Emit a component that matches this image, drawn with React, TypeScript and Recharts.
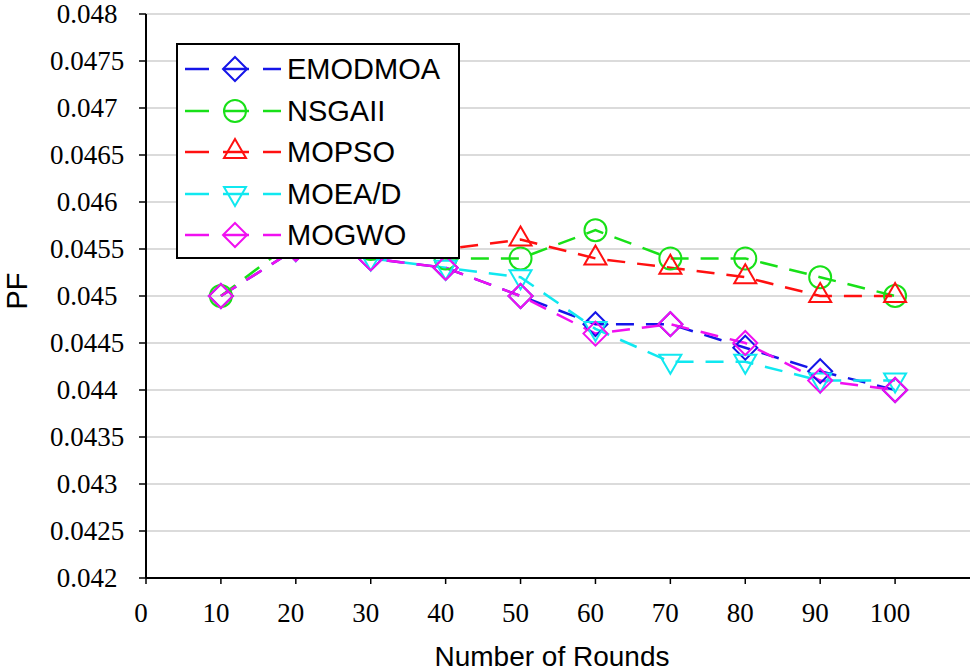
import React from "react";
import { LineChart, Line, XAxis, YAxis, CartesianGrid, Legend, Label } from "recharts";

const rounds = [10, 20, 30, 40, 50, 60, 70, 80, 90, 100];
const emodmoa = [0.045, 0.0455, 0.0454, 0.0453, 0.045, 0.0447, 0.0447, 0.04445, 0.0442, 0.044];
const nsgaii = [0.045, 0.0456, 0.0455, 0.0454, 0.0454, 0.0457, 0.0454, 0.0454, 0.0452, 0.045];
const mopso = [0.0456, 0.0455, 0.0455, 0.0455, 0.0456, 0.0454, 0.0453, 0.0452, 0.045, 0.045];
const moead = [0.0456, 0.0455, 0.0454, 0.0453, 0.0452, 0.04465, 0.0443, 0.0443, 0.0441, 0.0441];
const mogwo = [0.045, 0.0455, 0.0454, 0.0453, 0.045, 0.0446, 0.0447, 0.0445, 0.0441, 0.044];

const xTicks = [0, 10, 20, 30, 40, 50, 60, 70, 80, 90, 100];
const yTicks = [0.042, 0.0425, 0.043, 0.0435, 0.044, 0.0445, 0.045, 0.0455, 0.046, 0.0465, 0.047, 0.0475, 0.048];

const seriesNames = ["EMODMOA", "NSGAII", "MOPSO", "MOEA/D", "MOGWO"];
const seriesKeys = ["emodmoa", "nsgaii", "mopso", "moead", "mogwo"];
const seriesColors = ["#1515e8", "#18e018", "#ff1010", "#10e8f0", "#f010f0"];
const seriesShapes = ["diamond", "circle", "up", "down", "diamond"];
const seriesValues = [emodmoa, nsgaii, mopso, moead, mogwo];

const rows = rounds.map((r, i) => {
  const o: any = { round: r };
  seriesKeys.forEach((k, j) => {
    o[k] = seriesValues[j][i];
  });
  return o;
});

const SERIF = '"Liberation Serif", "Times New Roman", serif';
const SANS = '"Liberation Sans", Arial, sans-serif';

function MarkerShape({ cx, cy, stroke, shape }: any) {
  if (cx == null || cy == null) return null;
  const sw = 2;
  if (shape === "diamond") {
    return (
      <polygon
        points={`${cx},${cy - 12} ${cx + 12},${cy} ${cx},${cy + 12} ${cx - 12},${cy}`}
        fill="none"
        stroke={stroke}
        strokeWidth={sw}
      />
    );
  }
  if (shape === "circle") {
    return <circle cx={cx} cy={cy} r={11} fill="none" stroke={stroke} strokeWidth={sw} />;
  }
  if (shape === "up") {
    return (
      <polygon
        points={`${cx},${cy - 13} ${cx + 11},${cy + 6} ${cx - 11},${cy + 6}`}
        fill="none"
        stroke={stroke}
        strokeWidth={sw}
      />
    );
  }
  return (
    <polygon
      points={`${cx - 11},${cy - 7} ${cx + 11},${cy - 7} ${cx},${cy + 12}`}
      fill="none"
      stroke={stroke}
      strokeWidth={sw}
    />
  );
}

function LegendBox() {
  return (
    <div
      style={{
        width: 280,
        height: 212,
        border: "2px solid #000",
        background: "#fff",
        position: "relative",
      }}
    >
      {seriesNames.map((name, i) => (
        <div
          key={name}
          style={{ position: "absolute", left: 0, top: 4 + i * 41.5, height: 40, width: 280 }}
        >
          <svg width={110} height={40} style={{ position: "absolute", left: 0, top: 0 }}>
            <line x1={7} y1={20} x2={31} y2={20} stroke={seriesColors[i]} strokeWidth={2.5} />
            <line x1={45} y1={20} x2={71} y2={20} stroke={seriesColors[i]} strokeWidth={2.5} />
            <line x1={85} y1={20} x2={103} y2={20} stroke={seriesColors[i]} strokeWidth={2.5} />
            <MarkerShape cx={57} cy={20} stroke={seriesColors[i]} shape={seriesShapes[i]} />
          </svg>
          <span
            style={{
              position: "absolute",
              left: 109,
              top: 0,
              lineHeight: "40px",
              fontFamily: SANS,
              fontSize: 29,
              color: "#000",
            }}
          >
            {name}
          </span>
        </div>
      ))}
    </div>
  );
}

function XTick({ x, y, payload }: any) {
  return (
    <text
      x={x - 5}
      y={y}
      dy={36}
      textAnchor="middle"
      style={{ fontFamily: SERIF, fontSize: 27 }}
      fill="#000"
    >
      {payload.value}
    </text>
  );
}

function YTick({ y, payload }: any) {
  return (
    <text
      x={87}
      y={y}
      dy={9}
      textAnchor="middle"
      style={{ fontFamily: SERIF, fontSize: 27 }}
      fill="#000"
    >
      {String(payload.value)}
    </text>
  );
}

export default function App() {
  return (
    <div style={{ position: "absolute", left: 0, top: 0, width: 974, height: 671, background: "#fff" }}>
      <LineChart width={974} height={671} data={rows} margin={{ top: 14, right: 4, left: 0, bottom: 0 }}>
        <CartesianGrid vertical={false} stroke="#cfcfcf" strokeWidth={1.5} />
        <XAxis
          dataKey="round"
          type="number"
          domain={[0, 110]}
          ticks={xTicks}
          height={93}
          axisLine={{ stroke: "#000", strokeWidth: 2 }}
          tickLine={{ stroke: "#000", strokeWidth: 1.5 }}
          tickSize={6}
          tick={<XTick />}
        >
          <Label
            content={() => (
              <text
                x={552}
                y={666}
                textAnchor="middle"
                style={{ fontFamily: SANS, fontSize: 28 }}
                fill="#000"
              >
                Number of Rounds
              </text>
            )}
          />
        </XAxis>
        <YAxis
          type="number"
          domain={[0.042, 0.048]}
          ticks={yTicks}
          width={146}
          axisLine={{ stroke: "#000", strokeWidth: 2 }}
          tickLine={{ stroke: "#000", strokeWidth: 1.5 }}
          tickSize={7}
          tick={<YTick />}
          interval={0}
        >
          <Label
            content={() => (
              <text
                x={27}
                y={291}
                transform="rotate(-90, 27, 291)"
                textAnchor="middle"
                style={{ fontFamily: SANS, fontSize: 29 }}
                fill="#000"
              >
                PF
              </text>
            )}
          />
        </YAxis>
        <Legend
          layout="vertical"
          align="center"
          verticalAlign="middle"
          content={() => <LegendBox />}
          wrapperStyle={{ left: 176, top: 43, width: 284, height: 216 }}
        />
        {seriesKeys.map((k, i) => (
          <Line
            key={k}
            dataKey={k}
            name={seriesNames[i]}
            stroke={seriesColors[i]}
            strokeWidth={2.5}
            strokeDasharray="18 12"
            isAnimationActive={false}
            dot={(p: any) => (
              <MarkerShape key={`${k}-${p.index}`} cx={p.cx} cy={p.cy} stroke={seriesColors[i]} shape={seriesShapes[i]} />
            )}
            activeDot={false}
          />
        ))}
      </LineChart>
    </div>
  );
}
